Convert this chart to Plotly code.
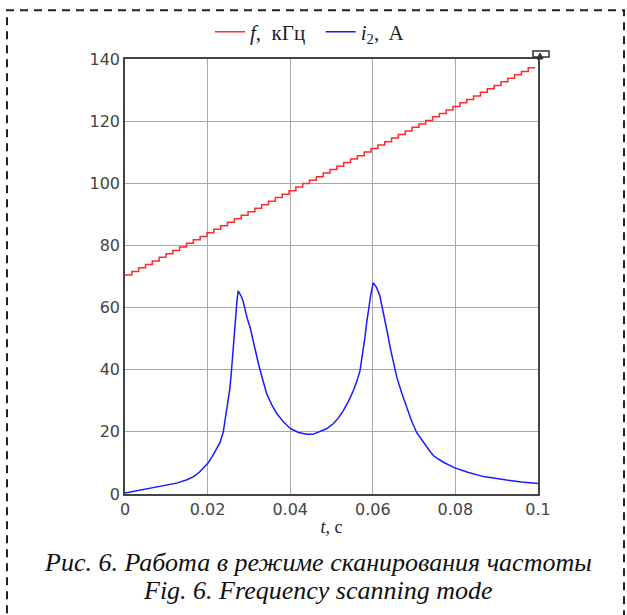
import numpy as np
import plotly.graph_objects as go

# Frequency staircase (kHz), one value per scanning step
f_steps = [70.5, 71.6, 72.8, 73.9, 75.0, 76.2, 77.3, 78.4, 79.5, 80.7,
           81.8, 82.9, 84.1, 85.2, 86.3, 87.5, 88.6, 89.7, 90.8, 92.0,
           93.1, 94.2, 95.4, 96.5, 97.6, 98.8, 99.9, 101.0, 102.1, 103.3,
           104.4, 105.5, 106.7, 107.8, 108.9, 110.1, 111.2, 112.3, 113.4, 114.6,
           115.7, 116.8, 118.0, 119.1, 120.2, 121.4, 122.5, 123.6, 124.7, 125.9,
           127.0, 128.1, 129.3, 130.4, 131.5, 132.7, 133.8, 134.9, 136.0, 137.2]
f_t = list(np.linspace(0, 0.0993, len(f_steps) + 1))
f_vals = f_steps + [f_steps[-1]]

# Current i2 (A)
i_t = [0.0, 0.0025, 0.005, 0.0075, 0.010, 0.0125, 0.015, 0.0165, 0.018, 0.019,
       0.020, 0.021, 0.022, 0.023, 0.0238, 0.0246, 0.0254, 0.0258, 0.0262, 0.0265,
       0.0268, 0.0271, 0.0274, 0.0278, 0.0282, 0.0286, 0.0290, 0.0296, 0.0303, 0.0313,
       0.0323, 0.0333, 0.0343, 0.0355, 0.0367, 0.0383, 0.0400, 0.0420, 0.0440, 0.0455,
       0.0472, 0.0488, 0.0504, 0.0517, 0.0529, 0.0541, 0.0553, 0.0562, 0.0569, 0.0575,
       0.0581, 0.0585, 0.0589, 0.0595, 0.0601, 0.0609, 0.0617, 0.0624, 0.0630, 0.0636,
       0.0642, 0.0650, 0.0658, 0.0670, 0.0682, 0.0694, 0.0706, 0.0714, 0.0725, 0.0737,
       0.0747, 0.0770, 0.0797, 0.0830, 0.0868, 0.0900, 0.0924, 0.0960, 0.0993, 0.1]
i_vals = [0.3, 0.9, 1.5, 2.1, 2.7, 3.5, 4.6, 5.5, 7.0, 8.3,
          9.8, 11.8, 14.0, 16.5, 20.0, 27.0, 34.0, 40.0, 47.0, 53.0,
          58.0, 62.0, 65.4, 64.5, 63.5, 62.0, 59.5, 56.5, 53.6, 47.5,
          42.0, 37.0, 32.3, 28.8, 26.0, 23.3, 21.1, 19.8, 19.2, 19.2,
          20.0, 21.0, 22.6, 24.5, 26.9, 29.8, 33.3, 36.5, 39.7, 44.5,
          50.4, 55.0, 59.0, 64.0, 68.0, 66.5, 63.8, 59.5, 55.7, 51.5,
          47.2, 42.0, 37.6, 32.5, 28.0, 23.5, 19.8, 18.2, 16.0, 14.0,
          12.3, 10.3, 8.5, 7.0, 5.6, 4.9, 4.5, 3.9, 3.5, 3.4]

x_ticks = [0, 0.02, 0.04, 0.06, 0.08, 0.1]
x_tick_text = ["0", "0.02", "0.04", "0.06", "0.08", "0.1"]
y_ticks = [0, 20, 40, 60, 80, 100, 120, 140]

W, H = 627, 615
L, R, T, B = 125, 538, 57, 494

def px(x):
    return (x - L) / (R - L)

def py(y):
    return (B - y) / (B - T)

fig = go.Figure()
fig.add_trace(go.Scatter(x=f_t, y=f_vals, mode="lines", line_shape="hv",
                         line=dict(color="#ff2a2a", width=1.5),
                         name="<i>f</i>,  кГц  "))
fig.add_trace(go.Scatter(x=i_t, y=i_vals, mode="lines",
                         line=dict(color="#1a1aff", width=1.5),
                         name="<i>i</i><sub>2</sub>,  A"))

axis_common = dict(showgrid=True, gridcolor="#a8a8a8", gridwidth=1,
                   showline=True, linecolor="#444", linewidth=1.5, mirror=True,
                   zeroline=False, ticks="",
                   tickfont=dict(family="DejaVu Sans", size=16, color="#444"))

fig.update_xaxes(range=[0, 0.1], tickvals=x_ticks, ticktext=x_tick_text,
                 title=dict(text="<i>t</i>, c", standoff=2,
                            font=dict(family="Liberation Serif", size=18, color="#222")),
                 **axis_common)
fig.update_yaxes(range=[0, 140], tickvals=y_ticks, **axis_common)

shapes = [
    dict(type="rect", xref="paper", yref="paper",
         x0=px(7), x1=px(624), y0=py(660), y1=py(8),
         line=dict(color="#222", width=2, dash="8px,6px"), layer="above"),
    dict(type="rect", xref="paper", yref="paper",
         x0=px(533), x1=px(549), y0=py(55), y1=py(49),
         line=dict(color="#333", width=1.5), layer="above"),
    dict(type="path", xref="paper", yref="paper",
         path=f"M {px(537)},{py(57)} L {px(543)},{py(57)} L {px(540)},{py(51)} Z",
         fillcolor="#333", line=dict(color="#333", width=1), layer="above"),
]

annotations = [
    dict(text="<i>Рис. 6. Работа в режиме сканирования частоты</i>",
         xref="paper", yref="paper", x=px(318), y=py(563),
         xanchor="center", yanchor="middle", showarrow=False,
         font=dict(family="Liberation Serif", size=26, color="#111")),
    dict(text="<i>Fig. 6. Frequency scanning mode</i>",
         xref="paper", yref="paper", x=px(318), y=py(591),
         xanchor="center", yanchor="middle", showarrow=False,
         font=dict(family="Liberation Serif", size=26, color="#111")),
]

fig.update_layout(
    width=W, height=H,
    margin=dict(l=L, r=W - R, t=T, b=H - B),
    paper_bgcolor="white", plot_bgcolor="white",
    showlegend=True,
    legend=dict(orientation="h", x=px(310), y=py(30), xanchor="center", yanchor="middle",
                font=dict(family="Liberation Serif", size=21, color="#222"),
                bgcolor="rgba(0,0,0,0)", itemwidth=30),
    shapes=shapes, annotations=annotations,
)

fig.write_html("out.html")
